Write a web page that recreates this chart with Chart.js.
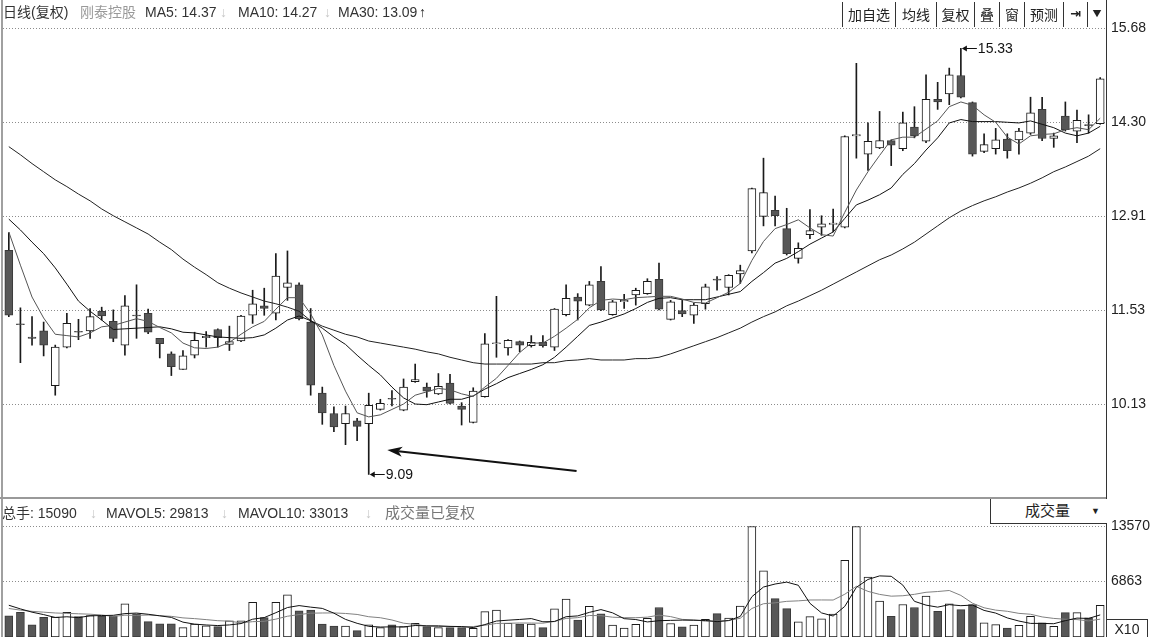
<!DOCTYPE html>
<html>
<head>
<meta charset="utf-8">
<script src="https://cdn.jsdelivr.net/npm/chart.js@4.4.1/dist/chart.umd.min.js"></script>
<style>
    body { margin: 0; background: #fff; }
    #wrap { position: relative; width: 1155px; height: 637px; overflow: hidden; background: #fff;
            font-family: "Liberation Sans", "Noto Sans CJK SC", sans-serif; font-size: 14px; color: #333; }
    .box { position: absolute; }
    .t { position: absolute; white-space: nowrap; line-height: 18px; }
    .dim { color: #999; }
    .arr { color: #c8c8c8; }
    #btns { position: absolute; left: 842px; top: 2px; height: 25px; display: flex; }
    #btns span { display: block; height: 25px; line-height: 24px; text-align: center; border-left: 1px solid #333;
                 font-family: "Noto Sans CJK SC", sans-serif; font-size: 14px; color: #222; }
    #btns span:last-child { border-right: 1px solid #333; }
</style>
</head>
<body>
<div id="wrap">
    <div class="box" style="left:0;top:0;width:1155px;height:497px"><canvas id="price-chart"></canvas></div>
    <div class="box" style="left:0;top:497px;width:1155px;height:140px"><canvas id="vol-chart"></canvas></div>

    <!-- frame -->
    <div class="box" style="left:1px;top:0;width:2px;height:637px;background:#a0a0a0"></div>
    <div class="box" style="left:0;top:497px;width:1106px;height:2px;background:#999"></div>
    <div class="box" style="left:1106px;top:0;width:1px;height:637px;background:#333"></div>

    <!-- price header -->
    <div class="t" style="left:3px;top:3px">日线(复权)</div>
    <div class="t dim" style="left:80px;top:3px">刚泰控股</div>
    <div class="t" style="left:145px;top:3px">MA5: 14.37</div>
    <div class="t arr" style="left:220px;top:3px">↓</div>
    <div class="t" style="left:238px;top:3px">MA10: 14.27</div>
    <div class="t arr" style="left:324px;top:3px">↓</div>
    <div class="t" style="left:338px;top:3px">MA30: 13.09</div>
    <div class="t" style="left:419px;top:3px;color:#222;font-weight:bold">↑</div>

    <div id="btns">
        <span style="width:52px">加自选</span>
        <span style="width:40px">均线</span>
        <span style="width:37px">复权</span>
        <span style="width:24px">叠</span>
        <span style="width:24px">窗</span>
        <span style="width:38px">预测</span>
        <span style="width:23px;font-family:'DejaVu Sans';font-weight:bold;font-size:13px">⇥</span>
        <span style="width:18px;font-size:9px">▼</span>
    </div>

    <!-- volume header -->
    <div class="t" style="left:2px;top:504px">总手: 15090</div>
    <div class="t arr" style="left:90px;top:504px">↓</div>
    <div class="t" style="left:106px;top:504px">MAVOL5: 29813</div>
    <div class="t arr" style="left:221px;top:504px">↓</div>
    <div class="t" style="left:238px;top:504px">MAVOL10: 33013</div>
    <div class="t arr" style="left:365px;top:504px">↓</div>
    <div class="t dim" style="left:385px;top:504px;font-size:15px;color:#777">成交量已复权</div>

    <div class="box" style="left:990px;top:499px;width:116px;height:24px;border-left:1px solid #333;border-bottom:1px solid #333;background:#fff">
        <div class="t" style="left:34px;top:3px;font-size:15px;color:#222">成交量</div>
        <div class="t" style="left:100px;top:3px;font-size:9px;color:#222">▼</div>
    </div>
    <div class="box" style="left:1107px;top:619px;width:40px;height:18px;border:1px solid #333;border-left:none;line-height:18px;text-align:center;color:#222">X10</div>
</div>

<script>
const opens = [
    12.40, 11.31, 11.12, 11.21, 10.40, 10.97, 11.20, 11.21, 11.50, 11.35,
    11.00, 11.44, 11.47, 11.10, 10.87, 10.64, 10.85, 11.11, 11.23, 11.01,
    11.06, 11.44, 11.58, 11.47, 11.85, 11.89, 11.34, 10.29, 9.99, 9.84,
    9.88, 9.84, 10.05, 10.21, 10.04, 10.46, 10.38, 10.28, 10.44, 10.10,
    9.86, 10.24, 11.02, 10.96, 11.05, 10.99, 11.04, 10.97, 11.45, 11.71,
    11.59, 11.94, 11.45, 11.64, 11.74, 11.76, 11.97, 11.38, 11.51, 11.44,
    11.61, 11.97, 11.85, 12.05, 12.39, 12.90, 12.99, 12.72, 12.28, 12.63,
    12.74, 12.78, 12.74, 14.09, 13.82, 13.91, 14.02, 13.90, 14.22, 14.01,
    14.63, 14.71, 14.98, 14.58, 13.86, 13.90, 14.04, 14.03, 14.13, 14.48,
    14.05, 14.38, 14.16, 14.25, 14.27
];
const highs = [
    12.66, 11.55, 11.42, 11.34, 11.00, 11.47, 11.38, 11.54, 11.56, 11.52,
    11.73, 11.89, 11.53, 11.10, 10.90, 10.92, 11.19, 11.20, 11.24, 11.28,
    11.44, 11.81, 11.84, 12.35, 12.39, 11.92, 11.54, 10.38, 10.09, 10.10,
    9.92, 10.29, 10.20, 10.33, 10.50, 10.72, 10.44, 10.58, 10.57, 10.15,
    10.37, 11.17, 11.72, 11.08, 11.06, 11.14, 11.14, 11.54, 11.89, 11.76,
    11.94, 12.16, 11.66, 11.75, 11.84, 11.98, 12.21, 11.66, 11.66, 11.62,
    11.90, 12.01, 12.04, 12.18, 13.32, 13.76, 13.20, 13.02, 12.51, 13.00,
    12.91, 13.01, 14.09, 15.16, 14.28, 14.45, 14.03, 14.44, 14.52, 14.99,
    14.88, 15.09, 15.38, 14.59, 14.12, 14.20, 14.12, 14.20, 14.66, 14.66,
    14.13, 14.59, 14.47, 14.40, 14.95
];
const lows = [
    11.42, 10.74, 11.00, 10.84, 10.26, 10.96, 11.08, 11.10, 11.37, 11.05,
    10.85, 11.10, 11.17, 10.81, 10.55, 10.64, 10.81, 10.97, 10.97, 10.92,
    11.05, 11.32, 11.44, 11.37, 11.66, 11.37, 10.26, 9.83, 9.72, 9.53,
    9.59, 9.09, 10.04, 10.10, 10.03, 10.45, 10.23, 10.27, 10.13, 9.82,
    9.85, 10.23, 10.82, 10.85, 10.90, 10.97, 10.97, 10.92, 11.43, 11.37,
    11.58, 11.51, 11.44, 11.54, 11.59, 11.75, 11.52, 11.37, 11.42, 11.32,
    11.53, 11.81, 11.74, 11.91, 12.36, 12.76, 12.76, 12.33, 12.21, 12.57,
    12.62, 12.67, 12.73, 13.76, 13.58, 13.90, 13.65, 13.87, 14.06, 13.99,
    14.48, 14.55, 14.65, 13.79, 13.84, 13.82, 13.76, 13.82, 14.11, 14.02,
    13.92, 14.16, 13.99, 14.13, 14.26
];
const closes = [
    11.44, 11.30, 11.10, 11.00, 10.97, 11.32, 11.19, 11.42, 11.43, 11.10,
    11.58, 11.43, 11.19, 11.02, 10.68, 10.84, 11.07, 11.13, 11.11, 11.05,
    11.43, 11.61, 11.54, 12.02, 11.92, 11.39, 10.41, 10.00, 9.79, 9.99,
    9.80, 10.11, 10.14, 10.20, 10.38, 10.49, 10.32, 10.39, 10.14, 10.05,
    10.32, 11.02, 11.03, 11.07, 11.00, 11.04, 10.99, 11.53, 11.69, 11.65,
    11.89, 11.52, 11.64, 11.66, 11.81, 11.94, 11.53, 11.64, 11.46, 11.59,
    11.86, 11.96, 12.03, 12.10, 13.31, 13.25, 12.91, 12.35, 12.43, 12.69,
    12.79, 12.80, 14.08, 14.11, 14.01, 14.02, 13.95, 14.28, 14.09, 14.63,
    14.59, 14.99, 14.66, 13.82, 13.96, 14.03, 13.87, 14.16, 14.43, 14.05,
    14.09, 14.18, 14.32, 14.24, 14.93
];
const ma5 = [
    12.67, 12.18, 11.71, 11.40, 11.16, 11.14, 11.12, 11.18, 11.27, 11.29,
    11.34, 11.39, 11.35, 11.26, 11.18, 11.03, 10.96, 10.95, 10.97, 11.04,
    11.16, 11.27, 11.35, 11.53, 11.70, 11.70, 11.46, 11.15, 10.70, 10.32,
    10.00, 9.94, 9.97, 10.05, 10.13, 10.26, 10.31, 10.36, 10.34, 10.28,
    10.24, 10.38, 10.51, 10.70, 10.89, 11.03, 11.03, 11.13, 11.25, 11.38,
    11.55, 11.66, 11.68, 11.67, 11.70, 11.71, 11.72, 11.72, 11.68, 11.63,
    11.62, 11.70, 11.78, 11.91, 12.25, 12.53, 12.72, 12.78, 12.85, 12.73,
    12.63, 12.61, 12.96, 13.29, 13.56, 13.80, 14.03, 14.07, 14.07, 14.19,
    14.31, 14.52, 14.59, 14.54, 14.40, 14.29, 14.07, 13.97, 14.09, 14.11,
    14.12, 14.18, 14.21, 14.18, 14.35
];
const ma10 = [
    12.86, 12.70, 12.52, 12.35, 12.14, 11.90, 11.65, 11.50, 11.37, 11.23,
    11.24, 11.25, 11.26, 11.27, 11.24, 11.19, 11.18, 11.15, 11.12, 11.11,
    11.10, 11.11, 11.15, 11.25, 11.37, 11.43, 11.36, 11.25, 11.12, 11.01,
    10.85, 10.70, 10.56, 10.38, 10.22, 10.13, 10.12, 10.16, 10.20, 10.20,
    10.25, 10.35, 10.43, 10.52, 10.58, 10.64, 10.71, 10.82, 10.97, 11.13,
    11.29, 11.34, 11.40, 11.46, 11.54, 11.63, 11.69, 11.70, 11.67, 11.67,
    11.67, 11.71, 11.75, 11.79, 11.94, 12.07, 12.21, 12.28, 12.38, 12.49,
    12.58, 12.67, 12.87, 13.07, 13.14, 13.22, 13.32, 13.52, 13.68, 13.88,
    14.06, 14.28, 14.33, 14.30, 14.30, 14.30, 14.29, 14.28, 14.31, 14.26,
    14.21, 14.13, 14.09, 14.13, 14.23
];
const ma30 = [
    13.93, 13.81, 13.68, 13.56, 13.44, 13.34, 13.23, 13.13, 13.01, 12.91,
    12.82, 12.73, 12.64, 12.52, 12.41, 12.27, 12.15, 12.04, 11.92, 11.84,
    11.77, 11.71, 11.65, 11.61, 11.56, 11.50, 11.36, 11.28, 11.22, 11.16,
    11.12, 11.06, 11.03, 11.00, 10.97, 10.94, 10.90, 10.87, 10.82, 10.78,
    10.74, 10.72, 10.72, 10.72, 10.72, 10.72, 10.74, 10.74, 10.77, 10.78,
    10.80, 10.78, 10.78, 10.78, 10.80, 10.80, 10.82, 10.87, 10.93, 10.99,
    11.05, 11.11, 11.18, 11.25, 11.34, 11.42, 11.49, 11.58, 11.65, 11.73,
    11.81, 11.90, 11.99, 12.08, 12.17, 12.26, 12.33, 12.42, 12.52, 12.64,
    12.76, 12.88, 12.98, 13.06, 13.13, 13.19, 13.26, 13.32, 13.39, 13.47,
    13.56, 13.63, 13.71, 13.79, 13.90
];
const volumes = [
    2600, 3040, 1480, 2420, 2440, 3040, 2500, 2620, 2580, 2580,
    4080, 2830, 1890, 1620, 1620, 1160, 1600, 1380, 1270, 2000,
    2000, 4270, 2380, 4270, 5170, 3200, 3320, 1600, 1350, 1350,
    780, 1480, 1150, 1480, 1270, 1680, 1270, 1150, 1150, 1150,
    1070, 3110, 3320, 1680, 1600, 1600, 1150, 3450, 4670, 2090,
    3760, 2860, 1460, 1090, 1560, 2280, 3620, 1660, 1250, 1460,
    2180, 2880, 2320, 3800, 13570, 8120, 4720, 3490, 1860, 2500,
    2220, 2800, 9400, 13570, 7350, 4400, 2550, 3990, 3620, 5010,
    3160, 4070, 3370, 3990, 1730, 1520, 1110, 1440, 2550, 1730,
    1320, 3000, 3000, 2340, 3900
];
const mavol5 = [
    3900, 3450, 3050, 2750, 2396, 2484, 2376, 2604, 2636, 2664,
    2872, 2938, 2792, 2600, 2408, 1824, 1578, 1476, 1406, 1482,
    1650, 2184, 2384, 2984, 3618, 3858, 3668, 3512, 2928, 2164,
    1680, 1312, 1222, 1248, 1232, 1412, 1370, 1370, 1304, 1280,
    1158, 1526, 1960, 2066, 2156, 2262, 1870, 1896, 2494, 2592,
    3024, 3366, 2968, 2252, 2146, 1850, 2002, 2042, 2074, 2054,
    2034, 1886, 2018, 2528, 4950, 6138, 6506, 6740, 6352, 4138,
    2958, 2574, 3756, 6098, 7068, 7504, 7454, 6372, 4382, 3914,
    3666, 3970, 3846, 3920, 3264, 2936, 2344, 1958, 1670, 1670,
    1630, 2008, 2320, 2278, 2712
];
const mavol10 = [
    3500, 3300, 3150, 3050, 2950, 2900, 2850, 2800, 2700, 2530,
    2678, 2657, 2698, 2618, 2536, 2348, 2258, 2134, 2003, 1945,
    1737, 1881, 1930, 2195, 2550, 2754, 2926, 2948, 2956, 2891,
    2769, 2490, 2367, 2088, 1698, 1546, 1341, 1296, 1276, 1256,
    1285, 1448, 1665, 1685, 1718, 1710, 1698, 1928, 2280, 2374,
    2643, 2618, 2432, 2373, 2369, 2437, 2684, 2505, 2163, 2100,
    1942, 1944, 2030, 2301, 3502, 4086, 4196, 4379, 4440, 4544,
    4548, 4540, 5248, 6225, 5603, 5231, 5014, 5064, 5240, 5491,
    5585, 5712, 5109, 4151, 3589, 3301, 3157, 2902, 2795, 2467,
    2283, 2176, 2139, 1974, 2191
];
const priceTicks = [10.13, 11.5175, 12.905, 14.2925, 15.68];
const priceTickLabels = ["10.13", "11.53", "12.91", "14.30", "15.68"];
const volTicks = [6863, 13570];
const volTickLabels = ["6863", "13570"];
const extremeLabels = { high: "15.33", low: "9.09" };

const days = closes.map((_, i) => String(i + 1));
const isUp = closes.map((c, i) => c >= opens[i]);

const UP_FILL = "#ffffff";
const DOWN_FILL = "#575757";
const UP_EDGE = "#1a1a1a";
const DOWN_EDGE = "#3a3a3a";
const AXIS_FONT = { family: "Liberation Sans", size: 14 };

// 最高/最低价标注 + 说明箭头
const markPlugin = {
    id: "marks",
    afterDatasetsDraw(chart) {
        const { ctx, scales: { x, y } } = chart;
        const hi = highs.indexOf(Math.max(...highs));
        const lo = lows.indexOf(Math.min(...lows));

        ctx.save();
        ctx.strokeStyle = "#111";
        ctx.fillStyle = "#111";
        ctx.lineWidth = 1;
        ctx.font = "14px 'Liberation Sans'";
        ctx.textBaseline = "middle";

        [[hi, highs[hi], extremeLabels.high], [lo, lows[lo], extremeLabels.low]].forEach(([i, v, text]) => {
            const px = x.getPixelForValue(i);
            const py = Math.round(y.getPixelForValue(v)) + 0.5;
            ctx.beginPath();
            ctx.moveTo(px + 4, py);
            ctx.lineTo(px + 16, py);
            ctx.stroke();
            ctx.beginPath();
            ctx.moveTo(px + 1, py);
            ctx.lineTo(px + 6, py - 3);
            ctx.lineTo(px + 6, py + 3);
            ctx.closePath();
            ctx.fill();
            ctx.fillText(text, px + 17, py + 1);
        });

        // long pointer towards the low
        const tx = x.getPixelForValue(48.9), ty = y.getPixelForValue(9.14);
        const hx = x.getPixelForValue(32.6), hy = y.getPixelForValue(9.45);
        const ang = Math.atan2(hy - ty, hx - tx);
        const len = 15;
        const bx = hx - Math.cos(ang) * len, by = hy - Math.sin(ang) * len;
        ctx.lineWidth = 2;
        ctx.beginPath();
        ctx.moveTo(tx, ty);
        ctx.lineTo(bx + Math.cos(ang) * 4, by + Math.sin(ang) * 4);
        ctx.stroke();
        ctx.beginPath();
        ctx.moveTo(hx, hy);
        ctx.lineTo(bx + Math.sin(ang) * 5, by - Math.cos(ang) * 5);
        ctx.lineTo(bx + Math.cos(ang) * 4, by + Math.sin(ang) * 4);
        ctx.lineTo(bx - Math.sin(ang) * 5, by + Math.cos(ang) * 5);
        ctx.closePath();
        ctx.fill();
        ctx.restore();
    }
};

function lineSet(data, color) {
    return { type: "line", data, borderColor: color, borderWidth: 1, pointRadius: 0, tension: 0, order: 0 };
}

function rightAxis(min, max, ticks, labels) {
    return {
        position: "right",
        min, max,
        // fixed width, and no extra label padding so the plot fills the panel
        afterFit: s => { s.width = 49; s.paddingTop = 0; s.paddingBottom = 0; },
        afterBuildTicks: s => { s.ticks = ticks.map(v => ({ value: v })); },
        ticks: { padding: 5, color: "#222", font: AXIS_FONT, callback: (v, i) => labels[i] },
        grid: { color: "#8c8c8c", lineWidth: 1, drawTicks: false },
        border: { display: false, dash: [1, 2] },
    };
}

new Chart(document.getElementById("price-chart"), {
    type: "bar",
    data: {
        labels: days,
        datasets: [
            lineSet(ma5, "#555"),
            lineSet(ma10, "#111"),
            lineSet(ma30, "#222"),
            {
                data: opens.map((o, i) => [o, closes[i]]),
                backgroundColor: isUp.map(u => u ? UP_FILL : DOWN_FILL),
                borderColor: isUp.map(u => u ? UP_EDGE : DOWN_EDGE),
                borderWidth: 1,
                borderSkipped: false,
                barThickness: 8,
                minBarLength: 1,
                grouped: false,
                order: 1,
            },
            {
                data: lows.map((l, i) => [l, highs[i]]),
                backgroundColor: "#1a1a1a",
                borderWidth: 0,
                barThickness: 1,
                grouped: false,
                order: 2,
            },
        ],
    },
    options: {
        responsive: true,
        maintainAspectRatio: false,
        animation: false,
        layout: { padding: { left: 3, top: 20, right: 0, bottom: 0 } },
        plugins: { legend: { display: false }, tooltip: { enabled: false } },
        scales: {
            x: { display: false, offset: true },
            y: rightAxis(8.757, 15.80, priceTicks, priceTickLabels),
        },
    },
    plugins: [markPlugin],
});

new Chart(document.getElementById("vol-chart"), {
    type: "bar",
    data: {
        labels: days,
        datasets: [
            lineSet(mavol5, "#111"),
            lineSet(mavol10, "#808080"),
            {
                data: volumes,
                backgroundColor: isUp.map(u => u ? UP_FILL : DOWN_FILL),
                borderColor: isUp.map(u => u ? UP_EDGE : DOWN_EDGE),
                borderWidth: 1,
                borderSkipped: false,
                barThickness: 8,
                grouped: false,
                order: 1,
            },
        ],
    },
    options: {
        responsive: true,
        maintainAspectRatio: false,
        animation: false,
        layout: { padding: { left: 3, top: 3, right: 0, bottom: 0 } },
        plugins: { legend: { display: false }, tooltip: { enabled: false } },
        scales: {
            x: { display: false, offset: true },
            y: rightAxis(0, 16824, volTicks, volTickLabels),
        },
    },
});
</script>
</body>
</html>
